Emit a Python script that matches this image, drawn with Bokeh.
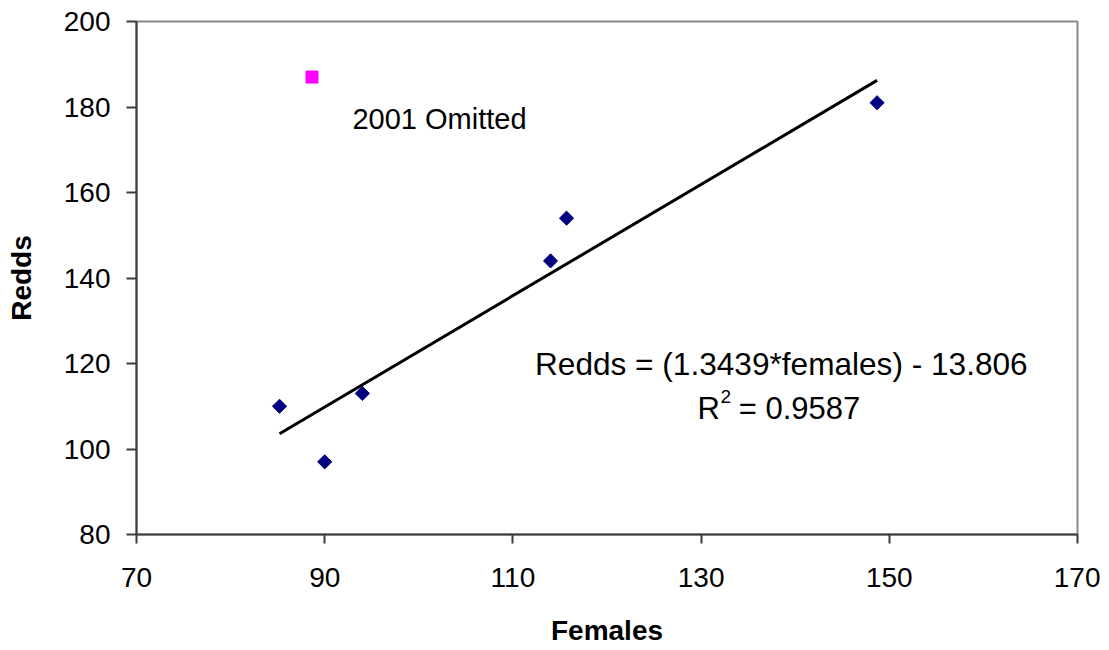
import numpy as np
from bokeh.plotting import figure
from bokeh.models import Range1d, FixedTicker
from bokeh.core.properties import value
from bokeh.embed import file_html
from bokeh.resources import INLINE

# Data
females = [85.2, 90.0, 94.0, 114.0, 115.7, 148.7]
redds = [110, 97, 113, 144, 154, 181]
omitted_females = [88.65]
omitted_redds = [187.0]
omitted_label = "2001 Omitted"
eq_line1 = "Redds = (1.3439*females) - 13.806"
eq_r = "R"
eq_sup = "2"
eq_val = "= 0.9587"
x_ticks = [70, 90, 110, 130, 150, 170]
y_ticks = [80, 100, 120, 140, 160, 180, 200]

FONT = "Liberation Sans"

p = figure(width=1100, height=648, output_backend="svg", toolbar_location=None,
           x_range=Range1d(70, 170), y_range=Range1d(80, 200),
           min_border_left=136, min_border_right=23, min_border_top=21, min_border_bottom=112)
p.grid.visible = False
p.background_fill_color = "white"
p.border_fill_color = "white"
p.outline_line_color = "#8a8a8a"
p.outline_line_width = 2

for ax, ticks in ((p.xaxis[0], x_ticks), (p.yaxis[0], y_ticks)):
    ax.ticker = FixedTicker(ticks=ticks)
    ax.axis_line_color = "#3c3c3c"
    ax.axis_line_width = 2
    ax.major_tick_line_color = "#3c3c3c"
    ax.major_tick_line_width = 2
    ax.major_tick_in = 0
    ax.minor_tick_line_color = None
    ax.major_label_text_font = FONT
    ax.major_label_text_font_size = "28px"
    ax.major_label_text_color = "black"
    ax.axis_label_text_font = FONT
    ax.axis_label_text_font_size = "28px"
    ax.axis_label_text_font_style = "bold"
    ax.axis_label_text_color = "black"

p.xaxis.major_tick_out = 9
p.xaxis.major_label_standoff = 24
p.xaxis.axis_label = "Females"
p.xaxis.axis_label_standoff = 25
p.yaxis.major_tick_out = 10
p.yaxis.major_label_standoff = 16
p.yaxis.axis_label = "Redds"
p.yaxis.axis_label_standoff = 24

# least-squares trend line through the plotted points
slope, intercept = np.polyfit(females, redds, 1)
fx = np.array([min(females), max(females)])
p.line(fx, slope * fx + intercept, line_color="black", line_width=3)

p.scatter(females, redds, marker="square", angle=np.pi / 4, size=10,
          fill_color="#000080", line_color="#000080")
p.scatter(omitted_females, omitted_redds, marker="square", size=12,
          fill_color="#FF00FF", line_color="#FF00FF")

def label(x, y, t, size):
    p.text(x=[x], y=[y], text=[t], text_font=value(FONT), text_font_size=size,
           text_color="black", text_baseline="alphabetic", text_align="left")

label(92.95, 177.2, omitted_label, "29px")
label(112.35, 119.85, eq_line1, "31.6px")
label(129.62, 109.36, eq_r, "31px")
label(132.06, 112.3, eq_sup, "19px")
label(134.0, 109.36, eq_val, "31px")

open("out.html", "w").write(file_html(p, INLINE))
